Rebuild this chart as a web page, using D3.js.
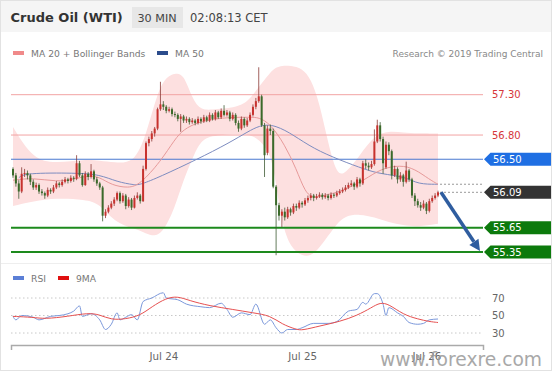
<!DOCTYPE html>
<html>
<head>
<meta charset="utf-8">
<script src="https://cdn.jsdelivr.net/npm/d3@7"></script>
<style>
body { margin: 0; background: #fff; }
text { font-family: "DejaVu Sans", sans-serif; }
</style>
</head>
<body>
<svg id="chart" width="553" height="375"></svg>
<script>
// 30 min candles, [open, high, low, close]
var candles = [
[56.38,56.40,56.27,56.30],[56.30,56.33,56.16,56.20],[56.20,56.24,56.01,56.10],[56.10,56.40,56.08,56.32],
[56.32,56.38,56.28,56.33],[56.33,56.36,56.25,56.30],[56.30,56.32,56.18,56.22],[56.22,56.25,56.12,56.15],
[56.15,56.21,56.12,56.18],[56.18,56.20,56.07,56.10],[56.10,56.13,56.05,56.08],[56.08,56.10,56.01,56.05],
[56.05,56.15,56.03,56.12],[56.12,56.14,56.07,56.10],[56.10,56.18,56.08,56.15],[56.15,56.23,56.13,56.20],
[56.20,56.22,56.15,56.18],[56.18,56.25,56.16,56.22],[56.22,56.28,56.20,56.25],[56.25,56.27,56.20,56.23],
[56.23,56.30,56.21,56.27],[56.27,56.29,56.22,56.26],[56.26,56.55,56.24,56.45],[56.45,56.48,56.28,56.30],
[56.30,56.33,56.16,56.18],[56.18,56.35,56.17,56.32],[56.32,56.34,56.24,56.28],[56.28,56.44,56.26,56.35],
[56.35,56.37,56.22,56.25],[56.25,56.28,56.17,56.20],[56.20,56.22,56.12,56.15],[56.15,56.17,55.73,55.80],
[55.80,55.88,55.77,55.85],[55.85,55.93,55.83,55.90],[55.90,55.98,55.88,55.95],[55.95,56.03,55.92,56.00],
[56.00,56.10,55.98,56.08],[56.08,56.10,55.95,55.98],[55.98,56.08,55.96,56.05],[56.05,56.07,55.88,55.92],
[55.92,56.03,55.90,56.00],[56.00,56.02,55.87,55.90],[55.90,56.05,55.89,56.02],[56.02,56.09,56.00,56.05],
[56.05,56.07,55.95,55.98],[55.98,56.42,55.97,56.38],[56.38,56.72,56.36,56.70],[56.70,56.78,56.66,56.75],
[56.75,56.85,56.72,56.82],[56.82,56.90,56.78,56.88],[56.88,57.14,56.86,57.12],[57.12,57.46,57.10,57.18],
[57.18,57.22,57.11,57.15],[57.15,57.17,57.07,57.10],[57.10,57.15,57.08,57.12],[57.12,57.14,57.03,57.06],
[57.06,57.09,57.02,57.05],[57.05,57.07,56.97,57.00],[57.00,57.06,56.84,57.03],[57.03,57.05,56.95,56.98],
[56.98,57.03,56.95,57.00],[57.00,57.02,56.93,56.96],[56.96,57.01,56.94,56.98],[56.98,57.00,56.92,56.95],
[56.95,57.03,56.93,57.00],[57.00,57.02,56.94,56.97],[56.97,57.05,56.95,57.02],[57.02,57.04,56.96,56.98],
[56.98,57.08,56.96,57.05],[57.05,57.07,56.98,57.00],[57.00,57.11,56.98,57.08],[57.08,57.10,57.00,57.02],
[57.02,57.13,57.00,57.10],[57.10,57.17,57.03,57.05],[57.05,57.11,57.03,57.08],[57.08,57.10,56.97,57.00],
[57.00,57.08,56.98,57.05],[57.05,57.07,56.92,56.95],[56.95,56.98,56.84,56.88],[56.88,57.03,56.86,57.00],
[57.00,57.02,56.89,56.92],[56.92,57.01,56.90,56.98],[56.98,57.08,56.96,57.05],[57.05,57.18,57.03,57.15],
[57.15,57.26,57.12,57.22],[57.22,57.64,57.20,57.28],[57.28,57.30,56.90,56.92],[56.92,56.95,56.28,56.55],
[56.58,56.92,56.55,56.88],[56.88,56.93,56.80,56.85],[56.85,56.88,56.14,56.16],[56.16,56.18,55.31,55.93],
[55.93,55.96,55.74,55.80],[55.80,55.88,55.66,55.85],[55.85,55.90,55.74,55.78],[55.78,55.91,55.76,55.88],
[55.88,55.90,55.80,55.84],[55.84,55.95,55.82,55.92],[55.92,55.95,55.86,55.90],[55.90,55.99,55.88,55.96],
[55.96,55.98,55.90,55.94],[55.94,56.02,55.92,55.99],[55.99,56.05,55.96,56.02],[56.02,56.08,55.99,56.05],
[56.05,56.07,55.98,56.02],[56.02,56.07,56.00,56.04],[56.04,56.09,56.02,56.06],[56.06,56.08,56.00,56.03],
[56.03,56.08,56.01,56.05],[56.05,56.07,55.99,56.02],[56.02,56.09,56.00,56.06],[56.06,56.08,56.02,56.05],
[56.05,56.11,56.03,56.08],[56.08,56.13,56.06,56.10],[56.10,56.15,56.08,56.12],[56.12,56.18,56.10,56.15],
[56.15,56.21,56.13,56.18],[56.18,56.24,56.16,56.20],[56.20,56.22,56.12,56.16],[56.16,56.28,56.14,56.25],
[56.25,56.27,56.16,56.20],[56.20,56.48,56.18,56.45],[56.45,56.50,56.38,56.42],[56.42,56.46,56.36,56.40],
[56.40,56.48,56.38,56.44],[56.44,56.87,56.42,56.72],[56.72,56.99,56.70,56.92],[56.92,56.96,56.72,56.75],
[56.75,56.78,56.32,56.45],[56.40,56.72,56.38,56.68],[56.68,56.71,56.55,56.60],[56.60,56.62,56.25,56.30],
[56.30,56.42,56.28,56.38],[56.38,56.40,56.20,56.25],[56.25,56.34,56.22,56.30],[56.30,56.32,56.16,56.22],
[56.22,56.47,56.20,56.36],[56.36,56.38,56.22,56.25],[56.25,56.27,56.02,56.05],[56.05,56.08,55.92,55.98],
[55.98,56.01,55.90,55.93],[55.93,55.97,55.86,55.90],[55.90,55.99,55.88,55.95],[55.95,55.97,55.82,55.86],
[55.86,56.01,55.84,55.98],[55.98,56.05,55.96,56.02],[56.02,56.08,56.00,56.05],[56.05,56.11,56.03,56.09]
];

// bollinger bands [bar, upper, lower]
var bands = [
[0,56.90,55.92],[7,56.49,55.98],[15,56.45,56.02],[25,56.50,56.00],[30,56.48,55.95],[35,56.46,55.72],
[42,56.45,55.64],[46,56.80,55.58],[49,57.20,55.54],[52,57.50,55.60],[56,57.57,55.90],[59,57.56,56.25],
[62,57.25,56.50],[65,57.10,56.75],[70,57.12,56.80],[80,57.15,56.82],[84,57.35,56.78],[89,57.58,56.60],
[91,57.64,56.20],[93,57.66,55.70],[96,57.66,55.40],[100,57.63,55.30],[103,57.50,55.30],[106,57.20,55.40],
[109,56.70,55.55],[112,56.30,55.70],[115,56.32,55.80],[120,56.55,55.82],[125,56.80,55.78],[130,56.85,55.72],
[135,56.83,55.68],[140,56.82,55.66],[147,56.82,55.70]
];
var ma20 = [
[0,56.24],[7,56.27],[15,56.22],[21,56.25],[26,56.30],[30,56.28],[34,56.18],[40,56.14],[44,56.19],
[51,56.47],[56,56.75],[59,56.87],[64,56.96],[70,57.00],[75,57.02],[82,57.02],[85,57.02],[89,56.94],
[94,56.68],[98,56.38],[101,56.09],[104,56.01],[108,56.06],[113,56.09],[122,56.25],[127,56.38],
[134,56.43],[139,56.38],[144,56.25],[147,56.19]
];
var ma50 = [
[2,56.27],[4,56.33],[22,56.33],[30,56.31],[36,56.22],[42,56.18],[45,56.18],[75,56.69],[85,56.94],
[91,56.92],[97,56.80],[104,56.63],[113,56.49],[122,56.37],[127,56.32],[136,56.28],[140,56.19],[147,56.19]
];

var levelValues = [57.30, 56.80, 56.50, 56.09, 55.65, 55.35];
var levelKinds = ["res", "res", "pivot", "last", "sup", "sup"];

var rsi = [
[0,49],[1,45],[3,50],[7,48],[9,45],[13,49],[16,50],[19,52],[21,55],[23,61],[24,49],[27,52],[30,45],
[32,34],[34,40],[36,53],[37,45],[39,48],[41,51],[43,45],[45,66],[48,70],[52,76],[53,70],[57,68],
[60,63],[65,60],[68,59],[72,64],[74,57],[76,48],[79,53],[82,51],[84,63],[87,40],[89,45],[91,36],
[93,30],[95,34],[98,34],[100,36],[104,41],[109,41],[112,43],[116,55],[119,57],[121,65],[122,63],
[125,75],[126,75],[128,63],[129,50],[130,59],[133,53],[135,49],[137,42],[140,40],[142,41],[144,45],[147,46]
];
var rsiMa = [
[0,49],[7,48],[11,46],[19,49],[26,53],[30,51],[34,45],[39,46],[44,50],[48,60],[53,70],[57,72],
[61,67],[68,61],[76,57],[83,53],[89,50],[93,40],[98,34],[100,33],[106,38],[113,43],[119,50],
[124,59],[127,65],[130,63],[135,51],[140,46],[144,43],[147,42]
];
var rsiGrid = [70, 50, 30];

var tickIdx = [52, 100, 143];
var tickLabels = ["Jul 24", "Jul 25", "Jul 26"];

var svg = d3.select("#chart");
var N = candles.length;

var x = d3.scaleLinear().domain([0, N - 1]).range([13, 438]);
var y = d3.scaleLinear().domain([55.35, 57.30]).range([252, 94.7]);
var ry = d3.scaleLinear().domain([30, 70]).range([333, 298]);
var plotL = 11, plotR = 483;

//---------------------------------------------------------------- frame / header
svg.append("rect").attr("x", 0.5).attr("y", 0.5).attr("width", 551).attr("height", 370)
    .attr("fill", "#fff").attr("stroke", "#e2e2e2");
svg.append("rect").attr("x", 1).attr("y", 1).attr("width", 550).attr("height", 31).attr("fill", "#f5f5f5");
svg.append("rect").attr("x", 132).attr("y", 7).attr("width", 51).attr("height", 21).attr("fill", "#e7e7e7");
svg.append("text").attr("x", 10.5).attr("y", 21.5).attr("font-size", "13px").attr("font-weight", "bold")
    .attr("fill", "#333").text("Crude Oil (WTI)");
svg.append("text").attr("x", 137.5).attr("y", 21.5).attr("font-size", "11.2px").attr("fill", "#444").text("30 MIN");
svg.append("text").attr("x", 190).attr("y", 21.5).attr("font-size", "11.5px").attr("fill", "#444").text("02:08:13 CET");

svg.append("line").attr("x1", 1).attr("x2", 551).attr("y1", 263.5).attr("y2", 263.5).attr("stroke", "#eeeeee");

// legend
var leg = [[13, "#f08a8a", "MA 20 + Bollinger Bands"], [157, "#2b4c8c", "MA 50"]];
leg.forEach(function(l) {
    svg.append("rect").attr("x", l[0]).attr("y", 51).attr("width", 11).attr("height", 4).attr("fill", l[1]);
    svg.append("text").attr("x", l[0] + 18).attr("y", 57).attr("font-size", "9.2px").attr("fill", "#777").text(l[2]);
});
svg.append("text").attr("x", 543).attr("y", 57).attr("text-anchor", "end").attr("font-size", "9px")
    .attr("fill", "#888").text("Research \u00a9 2019 Trading Central");

//---------------------------------------------------------------- main panel
var band = d3.area().x(d => x(d[0])).y0(d => y(d[2])).y1(d => y(d[1])).curve(d3.curveBasis);
svg.append("path").datum(bands).attr("d", band).attr("fill", "#fde0e0");

var levelStyle = {
    res: {stroke: "#f2a3a3", width: 1, dash: null},
    pivot: {stroke: "#4a78d0", width: 1.2, dash: null},
    last: {stroke: "#999", width: 1, dash: "2,2"},
    sup: {stroke: "#1d8a1d", width: 2, dash: null}
};
levelValues.forEach(function(v, i) {
    var s = levelStyle[levelKinds[i]];
    var x1 = levelKinds[i] == "last" ? x(N - 1) + 2 : plotL;
    svg.append("line").attr("x1", x1).attr("x2", plotR).attr("y1", y(v)).attr("y2", y(v))
        .attr("stroke", s.stroke).attr("stroke-width", s.width).attr("stroke-dasharray", s.dash);
});

var lineGen = d3.line().x(d => x(d[0])).y(d => y(d[1])).curve(d3.curveBasis);
svg.append("path").datum(ma50).attr("d", lineGen).attr("fill", "none").attr("stroke", "#7d8cc0").attr("stroke-width", 1);
svg.append("path").datum(ma20).attr("d", lineGen).attr("fill", "none").attr("stroke", "#e79a9a").attr("stroke-width", 1);
// ma50 last value dotted
var lastMa = ma50[ma50.length - 1][1];
svg.append("line").attr("x1", x(N - 1) + 2).attr("x2", plotR).attr("y1", y(lastMa)).attr("y2", y(lastMa))
    .attr("stroke", "#999").attr("stroke-dasharray", "2,2");

// candles
var bw = 2;
var cg = svg.append("g");
cg.selectAll("line.wick").data(candles).enter().append("line")
    .attr("class", "wick")
    .attr("x1", (d, i) => x(i)).attr("x2", (d, i) => x(i))
    .attr("y1", d => y(d[1])).attr("y2", d => y(d[2]))
    .attr("stroke", d => d[3] >= d[0] ? "#8a3a36" : "#3d5a33").attr("stroke-width", 0.8);
cg.selectAll("rect").data(candles).enter().append("rect")
    .attr("x", (d, i) => x(i) - bw / 2)
    .attr("y", d => y(Math.max(d[0], d[3])))
    .attr("width", bw)
    .attr("height", d => Math.max(1, Math.abs(y(d[0]) - y(d[3]))))
    .attr("fill", d => d[3] >= d[0] ? "#c8322e" : "#3b6a2a");

// projection arrow
var aStart = [x(N - 1) + 3, y(candles[N - 1][3])];
var aEnd = [plotR - 3, y(55.35) - 1];
var ang = Math.atan2(aEnd[1] - aStart[1], aEnd[0] - aStart[0]);
var hl = 11, hw = 5.5;
var bx = aEnd[0] - hl * Math.cos(ang), by = aEnd[1] - hl * Math.sin(ang);
svg.append("line").attr("x1", aStart[0]).attr("y1", aStart[1]).attr("x2", bx).attr("y2", by)
    .attr("stroke", "#2f5d9f").attr("stroke-width", 3.5);
svg.append("polygon").attr("fill", "#2f5d9f").attr("points", [
    [aEnd[0], aEnd[1]],
    [bx + hw * Math.sin(ang), by - hw * Math.cos(ang)],
    [bx - hw * Math.sin(ang), by + hw * Math.cos(ang)]
].map(p => p.join(",")).join(" "));

// right labels
var tagFill = {pivot: "#1f6fe3", last: "#333333", sup: "#0c7a0c"};
levelValues.forEach(function(v, i) {
    var k = levelKinds[i], yy = y(v);
    if (k == "res") {
        svg.append("text").attr("x", 492).attr("y", yy + 3.6).attr("font-size", "10px")
            .attr("fill", "#d6363a").text(v.toFixed(2));
        return;
    }
    svg.append("polygon").attr("fill", tagFill[k]).attr("points",
        [[484, yy], [490.5, yy - 6.5], [551, yy - 6.5], [551, yy + 6.5], [490.5, yy + 6.5]].map(p => p.join(",")).join(" "));
    svg.append("text").attr("x", 493).attr("y", yy + 3.6).attr("font-size", "10px")
        .attr("fill", "#fff").text(v.toFixed(2));
});

//---------------------------------------------------------------- RSI panel
var leg2 = [[13, "#5b7fd6", "RSI"], [58, "#e01010", "9MA"]];
leg2.forEach(function(l) {
    svg.append("rect").attr("x", l[0]).attr("y", 276).attr("width", 11).attr("height", 4).attr("fill", l[1]);
    svg.append("text").attr("x", l[0] + 18).attr("y", 281.5).attr("font-size", "9.2px").attr("fill", "#777").text(l[2]);
});

rsiGrid.forEach(function(v) {
    svg.append("line").attr("x1", plotL).attr("x2", plotR).attr("y1", ry(v)).attr("y2", ry(v))
        .attr("stroke", "#c8c8c8").attr("stroke-dasharray", "1.5,2.5");
    svg.append("text").attr("x", 492).attr("y", ry(v) + 3.6).attr("font-size", "10px").attr("fill", "#666").text(v);
});

svg.append("path").datum(rsi)
    .attr("d", d3.line().x(d => x(d[0])).y(d => ry(d[1])).curve(d3.curveMonotoneX))
    .attr("fill", "none").attr("stroke", "#7b98db").attr("stroke-width", 1);
svg.append("path").datum(rsiMa)
    .attr("d", d3.line().x(d => x(d[0])).y(d => ry(d[1])).curve(d3.curveBasis))
    .attr("fill", "none").attr("stroke", "#e65050").attr("stroke-width", 1);

//---------------------------------------------------------------- x axis
var xa = d3.scaleLinear().domain([x.invert(plotL), x.invert(plotR)]).range([plotL, plotR]);
var xAxis = svg.append("g").attr("transform", "translate(0,345)")
    .call(d3.axisBottom(xa).tickValues(tickIdx).tickFormat((d, i) => tickLabels[i])
        .tickSizeInner(0).tickSizeOuter(5).tickPadding(8));
xAxis.select(".domain").attr("stroke", "#aaa").attr("stroke-width", 1.5);
xAxis.selectAll("text").attr("font-size", "10.3px").attr("fill", "#666").attr("font-family", "DejaVu Sans");

// watermark
svg.append("text").attr("x", 542).attr("y", 366).attr("text-anchor", "end").attr("font-size", "20px")
    .attr("font-family", "Liberation Sans, Arial, sans-serif").attr("fill", "#9a9a9a").attr("opacity", 0.85)
    .attr("textLength", 162).attr("lengthAdjust", "spacingAndGlyphs")
    .text("www.forexre.com");
</script>
</body>
</html>
